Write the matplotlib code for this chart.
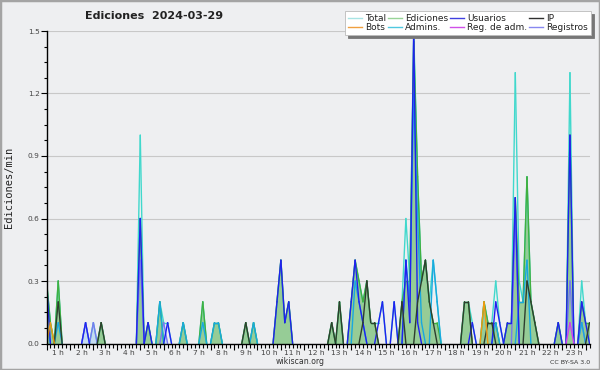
import numpy as np
import matplotlib
matplotlib.use('Agg')
import matplotlib.pyplot as plt
from matplotlib.lines import Line2D
from matplotlib.patches import Rectangle
from matplotlib.collections import LineCollection
from matplotlib.ticker import MultipleLocator, FixedLocator, FormatStrFormatter

# edits per minute, one value per 10-minute bin starting at 00:00 (rows = 2 hours)
total = [0.3, 0.1, 0, 0.3, 0, 0, 0, 0, 0, 0, 0.1, 0,
         0.1, 0, 0.1, 0, 0, 0, 0, 0, 0, 0, 0, 0,
         1.0, 0, 0.1, 0, 0, 0.2, 0.1, 0.1, 0, 0, 0, 0.1,
         0, 0, 0, 0, 0.2, 0, 0, 0.1, 0.1, 0, 0, 0,
         0, 0, 0, 0.1, 0, 0.1, 0, 0, 0, 0, 0, 0.2,
         0.4, 0.1, 0.2, 0, 0, 0, 0, 0, 0, 0, 0, 0,
         0, 0.1, 0, 0.2, 0, 0, 0.2, 0.4, 0.3, 0.2, 0.3, 0.1,
         0.1, 0.1, 0.2, 0, 0, 0.2, 0, 0.2, 0.6, 0.3, 1.5, 0.8,
         0.3, 0.4, 0.2, 0.4, 0.2, 0, 0, 0, 0, 0, 0, 0.2,
         0.2, 0.1, 0, 0, 0.2, 0.1, 0.1, 0.3, 0.1, 0, 0.1, 0.1,
         1.3, 0.3, 0.2, 0.8, 0.2, 0.1, 0, 0, 0, 0, 0, 0.1,
         0, 0, 1.3, 0, 0, 0.3, 0.1, 0.1]

ediciones = [0.3, 0.1, 0, 0.3, 0, 0, 0, 0, 0, 0, 0, 0,
             0, 0, 0.1, 0, 0, 0, 0, 0, 0, 0, 0, 0,
             0.6, 0, 0.1, 0, 0, 0.2, 0, 0, 0, 0, 0, 0.1,
             0, 0, 0, 0, 0.2, 0, 0, 0.1, 0.1, 0, 0, 0,
             0, 0, 0, 0.1, 0, 0.1, 0, 0, 0, 0, 0, 0.2,
             0.4, 0.1, 0.2, 0, 0, 0, 0, 0, 0, 0, 0, 0,
             0, 0.1, 0, 0.2, 0, 0, 0.2, 0.4, 0.3, 0.2, 0.3, 0.1,
             0.1, 0, 0, 0, 0, 0, 0, 0.2, 0.3, 0.3, 1.45, 0.8,
             0.3, 0.4, 0.2, 0.1, 0.1, 0, 0, 0, 0, 0, 0, 0.2,
             0.2, 0, 0, 0, 0.2, 0.1, 0.1, 0.1, 0, 0, 0.1, 0.1,
             0.7, 0.2, 0.2, 0.8, 0.2, 0.1, 0, 0, 0, 0, 0, 0.1,
             0, 0, 1.0, 0, 0, 0.2, 0.1, 0.1]

usuarios = [0.3, 0, 0, 0, 0, 0, 0, 0, 0, 0, 0.1, 0,
            0, 0, 0, 0, 0, 0, 0, 0, 0, 0, 0, 0,
            0.6, 0, 0.1, 0, 0, 0, 0, 0.1, 0, 0, 0, 0,
            0, 0, 0, 0, 0, 0, 0, 0, 0, 0, 0, 0,
            0, 0, 0, 0, 0, 0, 0, 0, 0, 0, 0, 0.2,
            0.4, 0.1, 0.2, 0, 0, 0, 0, 0, 0, 0, 0, 0,
            0, 0, 0, 0, 0, 0, 0.2, 0.4, 0.2, 0.1, 0, 0,
            0, 0.1, 0.2, 0, 0, 0.2, 0, 0, 0.4, 0.1, 1.5, 0.1,
            0, 0, 0, 0, 0, 0, 0, 0, 0, 0, 0, 0,
            0, 0.1, 0, 0, 0, 0, 0, 0.2, 0.1, 0, 0.1, 0.1,
            0.7, 0, 0, 0, 0, 0, 0, 0, 0, 0, 0, 0.1,
            0, 0, 1.0, 0, 0, 0.2, 0.1, 0]

ip = [0, 0, 0, 0.2, 0, 0, 0, 0, 0, 0, 0, 0,
      0, 0, 0.1, 0, 0, 0, 0, 0, 0, 0, 0, 0,
      0, 0, 0, 0, 0, 0, 0, 0, 0, 0, 0, 0,
      0, 0, 0, 0, 0, 0, 0, 0, 0, 0, 0, 0,
      0, 0, 0, 0.1, 0, 0, 0, 0, 0, 0, 0, 0,
      0, 0, 0, 0, 0, 0, 0, 0, 0, 0, 0, 0,
      0, 0.1, 0, 0.2, 0, 0, 0, 0, 0, 0.1, 0.3, 0.1,
      0.1, 0, 0, 0, 0, 0, 0, 0.2, 0, 0, 0, 0.2,
      0.3, 0.4, 0.2, 0.1, 0, 0, 0, 0, 0, 0, 0, 0.2,
      0.2, 0, 0, 0, 0, 0.1, 0.1, 0, 0, 0, 0, 0,
      0, 0, 0, 0.3, 0.2, 0.1, 0, 0, 0, 0, 0, 0,
      0, 0, 0, 0, 0, 0, 0, 0.1]

bots = [0, 0.1, 0, 0, 0, 0, 0, 0, 0, 0, 0, 0,
        0, 0, 0, 0, 0, 0, 0, 0, 0, 0, 0, 0,
        0, 0, 0, 0, 0, 0, 0, 0, 0, 0, 0, 0,
        0, 0, 0, 0, 0, 0, 0, 0, 0, 0, 0, 0,
        0, 0, 0, 0, 0, 0, 0, 0, 0, 0, 0, 0,
        0, 0, 0, 0, 0, 0, 0, 0, 0, 0, 0, 0,
        0, 0, 0, 0, 0, 0, 0, 0, 0, 0, 0, 0,
        0, 0, 0, 0, 0, 0, 0, 0, 0, 0, 0, 0,
        0, 0, 0, 0, 0, 0, 0, 0, 0, 0, 0, 0,
        0, 0, 0, 0, 0.2, 0, 0, 0, 0, 0, 0, 0,
        0, 0, 0, 0, 0, 0, 0, 0, 0, 0, 0, 0,
        0, 0, 0, 0, 0, 0, 0, 0]

admins = [0.1, 0, 0, 0.1, 0, 0, 0, 0, 0, 0, 0, 0,
          0, 0, 0, 0, 0, 0, 0, 0, 0, 0, 0, 0,
          0, 0, 0, 0, 0, 0.2, 0, 0, 0, 0, 0, 0.1,
          0, 0, 0, 0, 0.1, 0, 0, 0.1, 0.1, 0, 0, 0,
          0, 0, 0, 0, 0, 0.1, 0, 0, 0, 0, 0, 0,
          0, 0, 0, 0, 0, 0, 0, 0, 0, 0, 0, 0,
          0, 0, 0, 0, 0, 0, 0, 0.3, 0.2, 0.1, 0, 0,
          0, 0, 0, 0, 0, 0, 0, 0, 0.4, 0.2, 1.2, 0.6,
          0.1, 0, 0, 0.4, 0.2, 0, 0, 0, 0, 0, 0, 0,
          0, 0, 0, 0, 0, 0, 0, 0.1, 0, 0, 0, 0,
          0, 0.2, 0.2, 0.4, 0, 0, 0, 0, 0, 0, 0, 0,
          0, 0, 0, 0, 0, 0.1, 0, 0]

reg_adm = [0, 0, 0, 0, 0, 0, 0, 0, 0, 0, 0, 0,
           0, 0, 0, 0, 0, 0, 0, 0, 0, 0, 0, 0,
           0, 0, 0, 0, 0, 0, 0, 0, 0, 0, 0, 0,
           0, 0, 0, 0, 0, 0, 0, 0, 0, 0, 0, 0,
           0, 0, 0, 0, 0, 0, 0, 0, 0, 0, 0, 0,
           0, 0, 0, 0, 0, 0, 0, 0, 0, 0, 0, 0,
           0, 0, 0, 0, 0, 0, 0, 0, 0, 0, 0, 0,
           0, 0, 0, 0, 0, 0, 0, 0, 0, 0, 0, 0,
           0, 0, 0, 0, 0, 0, 0, 0, 0, 0, 0, 0,
           0, 0, 0, 0, 0, 0, 0, 0, 0, 0, 0, 0,
           0, 0, 0, 0, 0, 0, 0, 0, 0, 0, 0, 0,
           0, 0, 0.1, 0, 0, 0, 0, 0]

registros = [0, 0, 0, 0, 0, 0, 0, 0, 0, 0, 0.1, 0,
             0.1, 0, 0, 0, 0, 0, 0, 0, 0, 0, 0, 0,
             0.4, 0, 0, 0, 0, 0, 0.1, 0, 0, 0, 0, 0,
             0, 0, 0, 0, 0, 0, 0, 0, 0, 0, 0, 0,
             0, 0, 0, 0, 0, 0, 0, 0, 0, 0, 0, 0,
             0, 0, 0, 0, 0, 0, 0, 0, 0, 0, 0, 0,
             0, 0, 0, 0, 0, 0, 0, 0, 0, 0, 0, 0,
             0, 0, 0, 0, 0, 0, 0, 0, 0, 0, 0, 0,
             0, 0, 0, 0, 0, 0, 0, 0, 0, 0, 0, 0,
             0, 0, 0, 0, 0, 0, 0, 0, 0, 0, 0, 0,
             0.6, 0, 0, 0, 0, 0, 0, 0, 0, 0, 0, 0,
             0, 0, 0.3, 0, 0, 0.1, 0, 0]

hour_labels = ['%d h' % h for h in range(1, 24)]


def draw_series(ax, y, color, lw=1.0):
    # skip the flat segments lying on the zero line
    y = np.asarray(y, float)
    x = np.arange(len(y))
    segs = [[(x[i], y[i]), (x[i + 1], y[i + 1])]
            for i in range(len(y) - 1) if y[i] > 0 or y[i + 1] > 0]
    ax.add_collection(LineCollection(segs, colors=color, linewidths=lw,
                                     capstyle='round', joinstyle='round', zorder=2))


bg = '#eeeff1'
fig = plt.figure(figsize=(6, 3.7), dpi=100, facecolor=bg)
ax = fig.add_axes([46.5 / 600, 26.5 / 370, 543 / 600, 312.5 / 370], facecolor=bg)

x = np.arange(len(total))

# filled areas
ax.fill_between(x, registros, color='#c4dcf0', lw=0, zorder=1)
ax.fill_between(x, ediciones, color='#96cc96', lw=0, zorder=1.1)

draw_series(ax, total, '#40d8cc')
draw_series(ax, ediciones, '#40b040')
draw_series(ax, registros, '#7878f0')
draw_series(ax, admins, '#18a8e0')
draw_series(ax, usuarios, '#2020f0')
draw_series(ax, ip, '#2e3e2e')
draw_series(ax, bots, '#f09a10')
draw_series(ax, reg_adm, '#d040f0')

ax.set_xlim(0, len(total) - 1)
ax.set_ylim(0, 1.5)

# axes styling
for s in ['top', 'right']:
    ax.spines[s].set_visible(False)
for s in ['left', 'bottom']:
    ax.spines[s].set_color('black')
    ax.spines[s].set_linewidth(1)
    ax.spines[s].set_zorder(3)

ax.yaxis.set_major_locator(MultipleLocator(0.3))
ax.yaxis.set_minor_locator(MultipleLocator(0.075))
ax.yaxis.set_major_formatter(FormatStrFormatter('%.1f'))
ax.tick_params(axis='y', which='major', length=4, width=0.8, pad=1,
               labelsize=5.3, labelcolor='#444444')
ax.tick_params(axis='y', which='minor', length=2, width=0.8)
ax.yaxis.grid(True, which='major', color='#c8c8c8', lw=0.8)
ax.set_axisbelow(True)

ax.xaxis.set_major_locator(FixedLocator(np.arange(0, 140, 6)))
ax.xaxis.set_minor_locator(FixedLocator(np.arange(0, 140, 1)))
ax.set_xticklabels([])
ax.tick_params(axis='x', which='major', length=4, width=0.8)
ax.tick_params(axis='x', which='minor', length=3, width=0.8)
for h, lab in enumerate(hour_labels, start=1):
    ax.text((h - 0.5) * 6, -0.02, lab, ha='center', va='top', fontsize=5.4,
            color='#444444', transform=ax.get_xaxis_transform())

ax.set_ylabel('Ediciones/min', family='DejaVu Sans Mono', fontsize=7.5,
              color='#222222')
ax.yaxis.set_label_coords(-0.059, 0.5)

fig.text(154 / 600, 1 - 16 / 370, 'Ediciones  2024-03-29', ha='center', va='center',
         fontsize=8, fontweight='bold', color='#222222')
fig.text(300 / 600, 1 - 361 / 370, 'wikiscan.org', ha='center', va='center',
         fontsize=5.6, color='#333333')
fig.text(590 / 600, 1 - 362 / 370, 'CC BY-SA 3.0', ha='right', va='center',
         fontsize=4.5, color='#333333')

names = ['Total', 'Bots', 'Ediciones', 'Admins.', 'Usuarios', 'Reg. de adm.', 'IP', 'Registros']
colors = ['#a8e4e4', '#f0a040', '#98d498', '#50c8e0', '#4040e0', '#d050e8', '#303030', '#8888f0']
handles = [Line2D([], [], color=c, lw=1) for c in colors]
leg = fig.legend(handles, names, ncol=4, loc='upper right',
                 bbox_to_anchor=(591 / 600, 1 - 11 / 370), fontsize=6.5,
                 frameon=True, fancybox=False, shadow={'color': '#777777', 'alpha': 1},
                 handlelength=1.5, handletextpad=0.4, columnspacing=0.2,
                 borderpad=0.3, labelspacing=0.05, borderaxespad=0)
leg.get_frame().set_facecolor('white')
leg.get_frame().set_edgecolor('#bbbbbb')
leg.get_frame().set_linewidth(0.6)
for t in leg.get_texts():
    t.set_color('#222222')

fig.patches.append(Rectangle((0, 0), 1, 1, transform=fig.transFigure, fill=False,
                             ec='#a4a4a4', lw=2.5))

fig.savefig('out.png', dpi=100, facecolor=bg)
